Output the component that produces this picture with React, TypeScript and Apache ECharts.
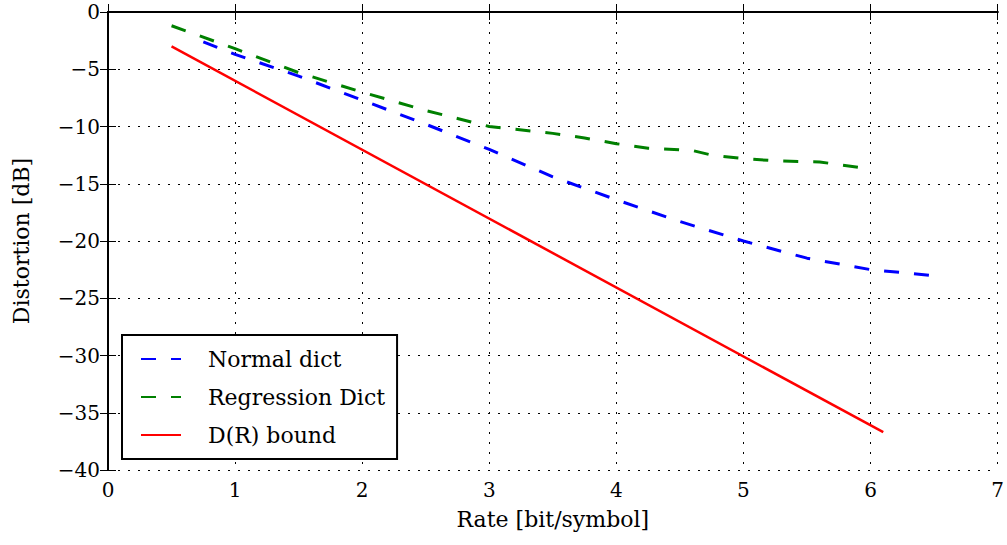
import React, { useEffect, useRef } from "react";
import * as echarts from "echarts";

const normalDict: [number, number][] = [
  [0.75, -2.6], [1.0, -3.7], [1.5, -5.6], [2.0, -7.7], [2.5, -9.8], [3.0, -12.0],
  [3.5, -14.4], [4.0, -16.4], [4.5, -18.3], [5.0, -20.0], [5.5, -21.5], [6.0, -22.5], [6.57, -23.1],
];
const regressionDict: [number, number][] = [
  [0.5, -1.2], [1.0, -3.2], [1.5, -5.3], [2.0, -7.0], [2.5, -8.6], [2.75, -9.3], [3.0, -10.0],
  [3.5, -10.6], [3.75, -11.0], [4.0, -11.5], [4.25, -11.9], [4.6, -12.1], [4.75, -12.5],
  [5.0, -12.8], [5.25, -13.0], [5.6, -13.1], [6.0, -13.7],
];
const drBound: [number, number][] = [
  [0.5, -3.0], [6.1, -36.7],
];
const seriesNames = ["Normal dict", "Regression Dict", "D(R) bound"];
const xTitle = "Rate [bit/symbol]";
const yTitle = "Distortion [dB]";

const FONT = "'DejaVu Serif', serif";
const fmt = (v: number) => (v < 0 ? "\u2212" + Math.abs(v) : String(v));

export default function App() {
  const ref = useRef<HTMLDivElement>(null);
  useEffect(() => {
    if (!ref.current) return;
    const chart = echarts.init(ref.current, undefined, { renderer: "svg" });
    const tick = { show: true, inside: true, length: 8, lineStyle: { color: "#000", width: 1 } };
    const axisLine = { show: true, lineStyle: { color: "#000", width: 2 } };
    const split = { show: true, lineStyle: { color: "#000", width: 1, type: [2, 8] as any } };
    chart.setOption({
      animation: false,
      backgroundColor: "#fff",
      grid: { left: 108, right: 4, top: 12, bottom: 75 },
      xAxis: [
        {
          type: "value", min: 0, max: 7, interval: 1, position: "bottom",
          name: xTitle, nameLocation: "middle", nameGap: 38,
          nameTextStyle: { fontFamily: FONT, fontSize: 22, color: "#000" },
          axisLine, axisTick: tick, splitLine: split,
          axisLabel: { fontFamily: FONT, fontSize: 20, color: "#000", margin: 10, formatter: fmt },
        },
        {
          type: "value", min: 0, max: 7, interval: 1, position: "top",
          axisLine, axisTick: tick, splitLine: { show: false }, axisLabel: { show: false },
        },
      ],
      yAxis: [
        {
          type: "value", min: -40, max: 0, interval: 5, position: "left",
          name: yTitle, nameLocation: "middle", nameGap: 76,
          nameTextStyle: { fontFamily: FONT, fontSize: 22, color: "#000" },
          axisLine, axisTick: tick, splitLine: split,
          axisLabel: { fontFamily: FONT, fontSize: 20, color: "#000", margin: 8, formatter: fmt },
        },
        {
          type: "value", min: -40, max: 0, interval: 5, position: "right",
          axisLine, axisTick: tick, splitLine: { show: false }, axisLabel: { show: false },
        },
      ],
      legend: {
        orient: "vertical", left: 122, top: 335,
        padding: [13, 12, 13, 18],
        itemWidth: 40, itemHeight: 22, itemGap: 16,
        backgroundColor: "#fff", borderColor: "#000", borderWidth: 2, borderRadius: 0,
        itemStyle: { opacity: 0 },
        textStyle: { fontFamily: FONT, fontSize: 22, color: "#000", padding: [0, 0, 0, 22] },
        data: seriesNames,
      },
      series: [
        {
          name: seriesNames[0], type: "line", data: normalDict, symbol: "none",
          lineStyle: { color: "#0000ff", width: 3, type: [15, 15] as any }, itemStyle: { color: "#0000ff" },
        },
        {
          name: seriesNames[1], type: "line", data: regressionDict, symbol: "none",
          lineStyle: { color: "#008000", width: 3, type: [15, 15] as any }, itemStyle: { color: "#008000" },
        },
        {
          name: seriesNames[2], type: "line", data: drBound, symbol: "none",
          lineStyle: { color: "#ff0000", width: 2.5, type: "solid" }, itemStyle: { color: "#ff0000" },
        },
      ],
    });
    return () => chart.dispose();
  }, []);
  return <div ref={ref} style={{ width: 1007, height: 545, position: "absolute", left: 0, top: 0 }} />;
}
